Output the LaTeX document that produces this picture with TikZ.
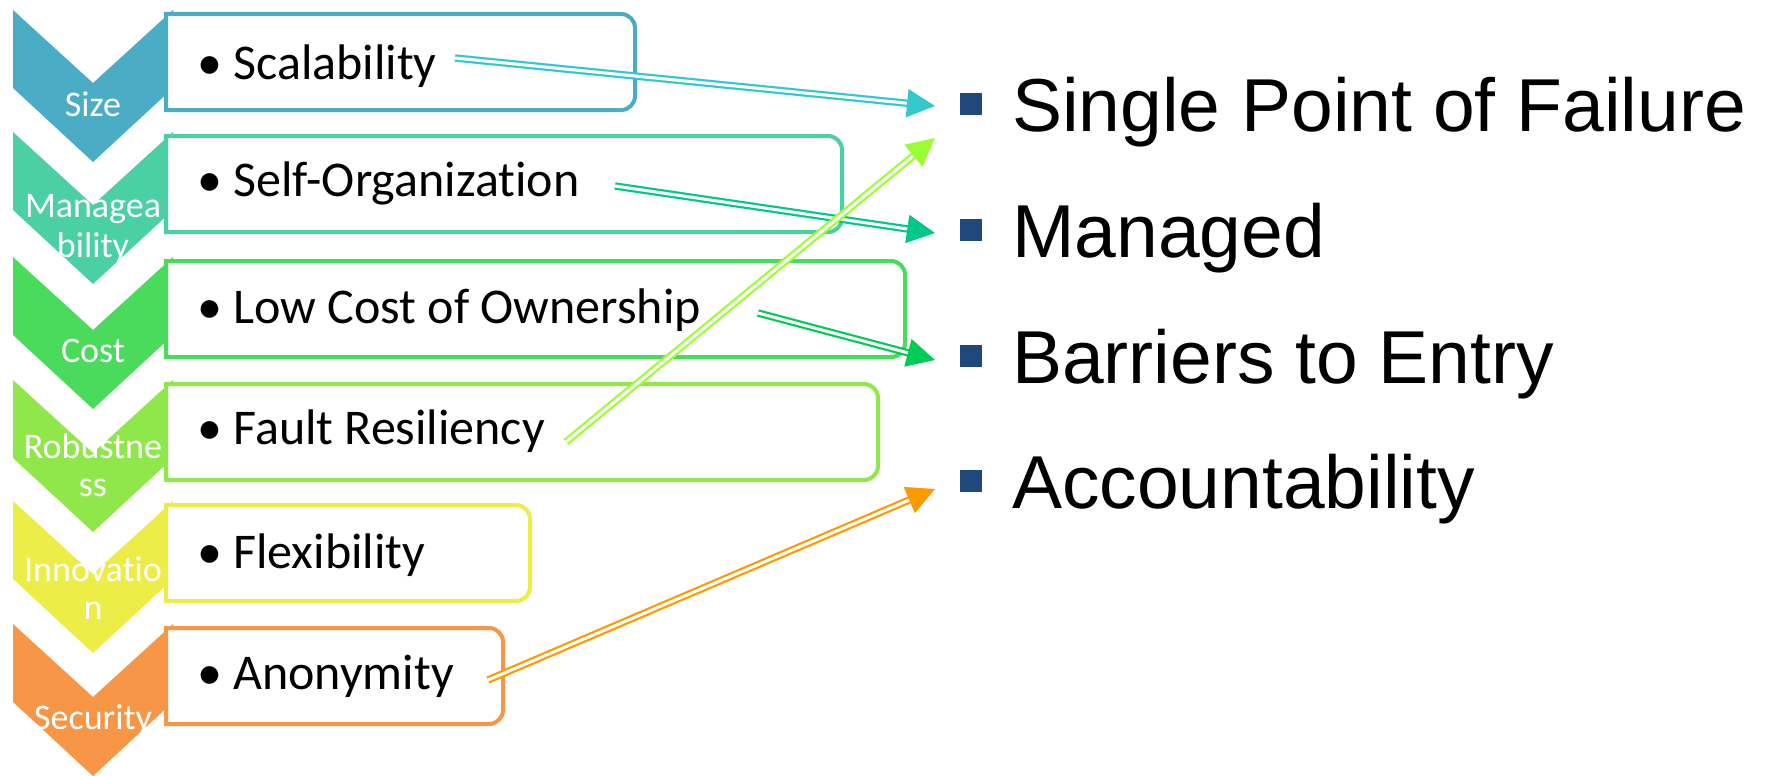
\documentclass[tikz,border=0pt]{standalone}
\usepackage{fontspec}
\setmainfont{Carlito}[Ligatures=NoCommon]
\newfontfamily\arialf{Liberation Sans}
\usetikzlibrary{arrows.meta}
\definecolor{cSize}{RGB}{75,172,198}
\definecolor{cMan}{RGB}{74,208,162}
\definecolor{cCost}{RGB}{74,218,92}
\definecolor{cRob}{RGB}{143,231,74}
\definecolor{cInn}{RGB}{237,237,72}
\definecolor{cSec}{RGB}{247,150,70}
\definecolor{aSize}{RGB}{51,200,204}
\definecolor{aMan}{RGB}{0,200,136}
\definecolor{aCost}{RGB}{0,204,85}
\definecolor{aRob}{RGB}{153,255,51}
\definecolor{aSec}{RGB}{255,153,0}
\definecolor{sqc}{RGB}{31,73,125}
\newcommand\mychev[2]{\fill[#2] (13,#1) -- (93,#1+73) -- (173,#1) -- (173,#1+78) -- (93,#1+152) -- (13,#1+78) -- cycle;}
\newcommand\mybox[3]{\draw[line width=4pt, draw=#3, fill=white] (166,#1+4) -- (#2-14,#1+4) arc[start angle=90,end angle=0,radius=14pt] -- (#2,#1+86) arc[start angle=0,end angle=-90,radius=14pt] -- (166,#1+100) -- cycle;}
\begin{document}
\begin{tikzpicture}[x=1pt,y=-1pt,
  itm/.style={inner sep=0pt, anchor=base west, font=\fontsize{50}{60}\selectfont},
  lab/.style={inner sep=0pt, anchor=base, text=white, font=\fontsize{36}{40}\selectfont},
  rt/.style={inner sep=0pt, anchor=base west, font=\arialf\fontsize{75}{90}\selectfont},
  sqb/.style={fill=sqc, minimum width=22pt, minimum height=22pt, inner sep=0pt},
  dar/.style={draw=#1, double=white, double distance=3pt, line width=2.2pt, -{Triangle[length=28pt,width=28pt,fill=#1]}}]
\useasboundingbox (0,0) rectangle (1765,776);
% chevrons
\mychev{10}{cSize}
\mychev{132}{cMan}
\mychev{257}{cCost}
\mychev{380}{cRob}
\mychev{501}{cInn}
\mychev{624}{cSec}
% boxes
\mybox{10}{635}{cSize}
\mybox{132}{842}{cMan}
\mybox{257}{905}{cCost}
\mybox{380}{878}{cRob}
\mybox{501}{530}{cInn}
\mybox{624}{503}{cSec}
% chevron labels
\node[lab] (l1) at (93,117) {Size};
\node[lab] (l2a) at (93,217) {Managea};
\node[lab] (l2b) at (93,257) {bility};
\node[lab] (l3) at (93,362) {Cost};
\node[lab] (l4a) at (93,458) {Robustne};
\node[lab] (l4b) at (93,496) {ss};
\node[lab] (l5a) at (93,581) {Innovatio};
\node[lab] (l5b) at (93,619) {n};
\node[lab] (l6) at (93,729) {Security};
% items
\node[itm] (t1) at (197,80) {\textbullet\ Scalability};
\node[itm] (t2) at (197,196) {\textbullet\ Self-Organization};
\node[itm] (t3) at (197,323) {\textbullet\ Low Cost of Ownership};
\node[itm] (t4) at (197,444) {\textbullet\ Fault Resiliency};
\node[itm] (t5) at (197,568) {\textbullet\ Flexibility};
\node[itm] (t6) at (197,689) {\textbullet\ Anonymity};
% right list
\node[sqb] (q1) at (971,104) {};
\node[sqb] (q2) at (971,230) {};
\node[sqb] (q3) at (971,356) {};
\node[sqb] (q4) at (971,481) {};
\node[rt] (r1) at (1012,131) {Single Point of Failure};
\node[rt] (r2) at (1012,257) {Managed};
\node[rt] (r3) at (1012,383) {Barriers to Entry};
\node[rt] (r4) at (1012,508) {Accountability};
% arrow ends
\coordinate (s1) at (455,58);
\coordinate (s2) at (615,186);
\coordinate (s3) at (758,313);
\coordinate (s4) at (566,442);
\coordinate (s5) at (488,680);
\coordinate (e1) at (935,106);
\coordinate (e2) at (935,233);
\coordinate (e3) at (935,360);
\coordinate (e4) at (935,138);
\coordinate (e5) at (935,489);
\draw[dar=aSize] (s1) -- (e1);
\draw[dar=aMan] (s2) -- (e2);
\draw[dar=aCost] (s3) -- (e3);
\draw[dar=aRob] (s4) -- (e4);
\draw[dar=aSec] (s5) -- (e5);
\end{tikzpicture}
\end{document}
